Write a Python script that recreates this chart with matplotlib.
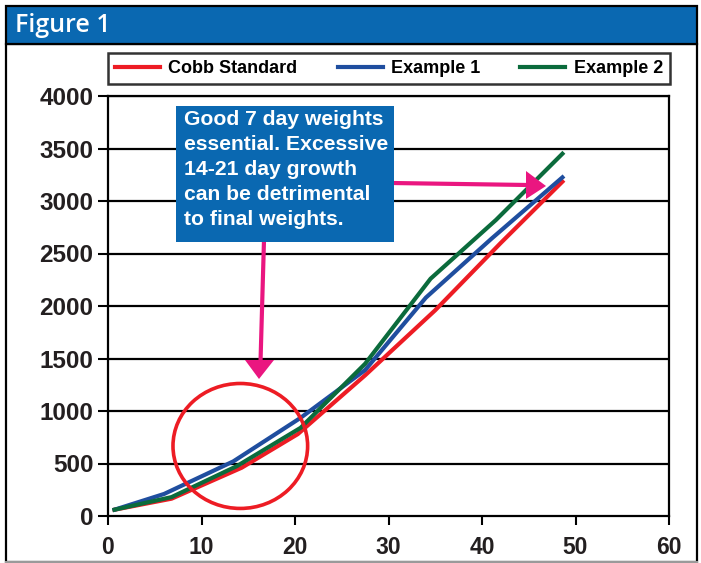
import matplotlib
matplotlib.use("Agg")
import matplotlib.pyplot as plt
from matplotlib.patches import Rectangle, Ellipse, Polygon
from matplotlib.lines import Line2D
from matplotlib.transforms import Affine2D

# ---------------- data ----------------
series_names = ["Cobb Standard", "Example 1", "Example 2"]
cobb_days = [0.7, 6.8, 14.3, 20.3, 27.5, 35.0, 42.0, 48.6]
cobb_weight = [60, 165, 460, 780, 1340, 1960, 2600, 3184]
ex1_days = [0.7, 6.0, 13.4, 20.6, 27.5, 34.0, 41.0, 48.6]
ex1_weight = [60, 210, 520, 935, 1390, 2080, 2640, 3225]
ex2_days = [0.7, 6.8, 13.8, 20.6, 27.5, 34.5, 41.5, 48.6]
ex2_weight = [60, 180, 476, 840, 1450, 2260, 2820, 3450]
x_ticks = [0, 10, 20, 30, 40, 50, 60]
y_ticks = [0, 500, 1000, 1500, 2000, 2500, 3000, 3500, 4000]
title_text = "Figure 1"
note_text = ("Good 7 day weights\nessential. Excessive\n14-21 day growth\n"
             "can be detrimental\nto final weights.")

RED = "#ED1C24"
BLUE = "#1F4E9F"
GREEN = "#0B6B3C"
PINK = "#EA1680"
HEAD = "#0A68B1"
DARK = "#231F20"

W, H = 701, 563
fig = plt.figure(figsize=(W / 100, H / 100), dpi=100)
fig.patch.set_facecolor("white")
px = Affine2D().scale(1 / W, -1 / H).translate(0, 1) + fig.transFigure

# outer frame and header
fig.add_artist(Rectangle((6, 44), 691, 518, transform=px, fill=False,
                         edgecolor="black", lw=1.6, zorder=1))
fig.add_artist(Line2D([6, 697], [561.5, 561.5], transform=px, color="#9a9a9a", lw=1.5))
fig.add_artist(Rectangle((6, 6), 691, 38, transform=px, facecolor=HEAD,
                         edgecolor="black", lw=1.6, zorder=2))
fig.text(15, 26, title_text, transform=px, color="white", fontsize=18,
         family="Open Sans", fontweight="semibold", va="center", ha="left", zorder=3)

# axes
l, r, t, b = 108, 669, 96, 516
ax = fig.add_axes([l / W, 1 - b / H, (r - l) / W, (b - t) / H])
ax.set_xlim(0, 60)
ax.set_ylim(0, 4000)
for yv in y_ticks[1:]:
    ax.axhline(yv, color="black", lw=1.6, zorder=1)
for s in ax.spines.values():
    s.set_linewidth(1.6)
    s.set_color("black")

ax.plot(cobb_days, cobb_weight, color=RED, lw=3, label=series_names[0], zorder=3)
ax.plot(ex1_days, ex1_weight, color=BLUE, lw=3, label=series_names[1], zorder=3)
ax.plot(ex2_days, ex2_weight, color=GREEN, lw=3, label=series_names[2], zorder=3)

ax.set_xticks(x_ticks)
ax.set_yticks(y_ticks)
ax.set_xticklabels([str(v) for v in x_ticks])
ax.set_yticklabels([str(v) for v in y_ticks])
ax.tick_params(axis="y", direction="out", length=7.5, width=1.5, pad=3,
               labelsize=17.5, labelcolor=DARK)
ax.tick_params(axis="x", direction="out", length=6.5, width=1.5, pad=8,
               labelsize=16.5, labelcolor=DARK)
for lab in ax.get_xticklabels() + ax.get_yticklabels():
    lab.set_family("Liberation Sans")
    lab.set_fontweight("bold")

# circle highlighting days 7-21
ax.add_patch(Ellipse((14.15, 667), 14.4, 1190, fill=False, edgecolor=RED,
                     lw=2.6, zorder=4))

# legend
leg = fig.legend(loc="center", bbox_to_anchor=(108 / W, 1 - 83 / H, (670 - 108) / W, 29 / H),
                 mode="expand", ncol=3, frameon=True, fancybox=False,
                 handlelength=2.5, handletextpad=0.45, borderpad=0.4, borderaxespad=0.0,
                 prop={"family": "Liberation Sans", "weight": "bold", "size": 13})
leg.get_frame().set_edgecolor("black")
leg.get_frame().set_linewidth(1.8)
for line in leg.get_lines():
    line.set_linewidth(3)

# pink arrows
fig.add_artist(Line2D([264, 260.5], [240, 362], transform=px, color=PINK, lw=3, zorder=5))
fig.add_artist(Polygon([(245, 360), (274, 360), (259, 379)], closed=True,
                       transform=px, facecolor=PINK, edgecolor="none", zorder=5))
fig.add_artist(Line2D([392, 528], [183, 185], transform=px, color=PINK, lw=3, zorder=5))
fig.add_artist(Polygon([(526, 171), (526, 199), (546, 186)], closed=True,
                       transform=px, facecolor=PINK, edgecolor="none", zorder=5))

# note box
fig.add_artist(Rectangle((176, 106), 218, 136, transform=px, facecolor=HEAD,
                         edgecolor="none", zorder=6))
fig.text(184, 110, note_text, transform=px, color="white", fontsize=15.2,
         family="Liberation Sans", fontweight="bold", va="top", ha="left",
         linespacing=1.4, zorder=7)

fig.savefig("out.png", dpi=100)
